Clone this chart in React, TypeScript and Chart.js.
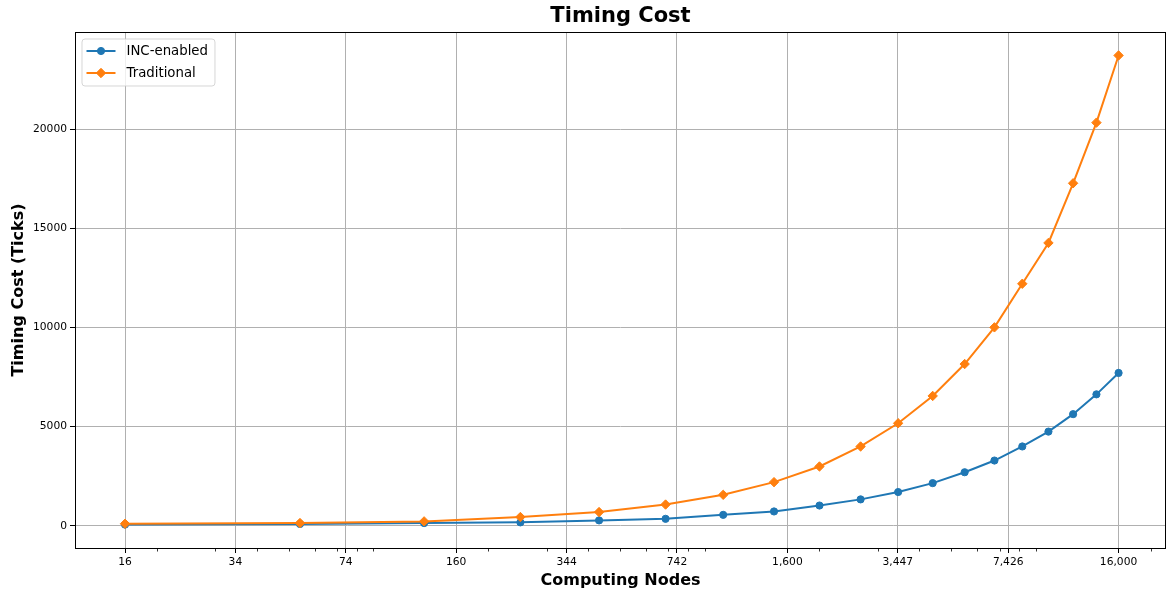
import React, { useEffect, useRef } from 'react';
import { Chart, registerables } from 'chart.js';

Chart.register(...registerables);

// ---- data ----
const nodes = [16, 54, 128, 250, 432, 686, 1024, 1458, 2000, 2662, 3456, 4394, 5488, 6750, 8192, 9826, 11664, 13718, 16000];
const incEnabled = [60, 90, 135, 170, 270, 350, 550, 720, 1020, 1330, 1700, 2150, 2700, 3290, 4000, 4750, 5630, 6630, 7710];
const traditional = [100, 135, 220, 440, 690, 1070, 1560, 2200, 2990, 4000, 5170, 6550, 8160, 10010, 12210, 14270, 17280, 20340, 23730];

const xTickValues = [16, 34.47, 74.27, 160, 344.71, 742.65, 1600, 3447.09, 7426.54, 16000];
const xTickLabels = ['16', '34', '74', '160', '344', '742', '1,600', '3,447', '7,426', '16,000'];
const xMinorTicks = [20, 30, 40, 50, 60, 70, 80, 90, 200, 300, 400, 500, 600, 700, 800, 900, 2000, 3000, 4000, 5000, 6000, 7000, 8000, 9000, 20000];
const yTickValues = [0, 5000, 10000, 15000, 20000];
const yTickLabels = ['0', '5000', '10000', '15000', '20000'];

const X_MIN = 11.3;
const X_MAX = 22250;
const Y_MIN = -1123;
const Y_MAX = 24913;

const FONT = 'DejaVu Sans';

const framePlugin = {
  id: 'frame',
  afterDatasetsDraw(chart: any) {
    const { ctx, chartArea } = chart;
    const { left, top, right, bottom } = chartArea;
    ctx.save();
    ctx.strokeStyle = '#000';
    ctx.lineWidth = 1;
    ctx.strokeRect(Math.round(left) + 0.5, Math.round(top) + 0.5, Math.round(right - left) - 1, Math.round(bottom - top));
    ctx.restore();
  },
};

const minorTickPlugin = {
  id: 'minorTicks',
  afterDraw(chart: any) {
    const { ctx, chartArea } = chart;
    const xs = chart.scales.x;
    ctx.save();
    ctx.strokeStyle = '#000';
    ctx.lineWidth = 0.8;
    for (const v of xMinorTicks) {
      const px = Math.round(xs.getPixelForValue(v)) + 0.5;
      if (px < chartArea.left || px > chartArea.right) continue;
      ctx.beginPath();
      ctx.moveTo(px, chartArea.bottom + 1);
      ctx.lineTo(px, chartArea.bottom + 3.5);
      ctx.stroke();
    }
    ctx.restore();
  },
};

function drawMarker(ctx: CanvasRenderingContext2D, style: string, x: number, y: number, r: number, color: string) {
  ctx.fillStyle = color;
  ctx.strokeStyle = color;
  ctx.lineWidth = 1;
  ctx.beginPath();
  if (style === 'rectRot') {
    ctx.moveTo(x - r, y);
    ctx.lineTo(x, y - r);
    ctx.lineTo(x + r, y);
    ctx.lineTo(x, y + r);
    ctx.closePath();
  } else {
    ctx.arc(x, y, r, 0, Math.PI * 2);
  }
  ctx.fill();
  ctx.stroke();
}

const legendPlugin = {
  id: 'mplLegend',
  afterDraw(chart: any) {
    const { ctx, chartArea } = chart;
    const datasets = chart.data.datasets;
    ctx.save();
    ctx.font = `13.3px "${FONT}"`;
    let maxW = 0;
    for (const ds of datasets) maxW = Math.max(maxW, ctx.measureText(ds.label).width);
    const x0 = chartArea.left + 7;
    const y0 = chartArea.top + 7;
    const w = 44.5 + maxW + 7;
    const h = 47;
    const r = 3;
    ctx.beginPath();
    ctx.moveTo(x0 + r, y0);
    ctx.lineTo(x0 + w - r, y0);
    ctx.arcTo(x0 + w, y0, x0 + w, y0 + r, r);
    ctx.lineTo(x0 + w, y0 + h - r);
    ctx.arcTo(x0 + w, y0 + h, x0 + w - r, y0 + h, r);
    ctx.lineTo(x0 + r, y0 + h);
    ctx.arcTo(x0, y0 + h, x0, y0 + h - r, r);
    ctx.lineTo(x0, y0 + r);
    ctx.arcTo(x0, y0, x0 + r, y0, r);
    ctx.closePath();
    ctx.fillStyle = 'rgba(255,255,255,0.8)';
    ctx.fill();
    ctx.strokeStyle = 'rgba(204,204,204,0.8)';
    ctx.lineWidth = 1;
    ctx.stroke();
    datasets.forEach((ds: any, i: number) => {
      const cy = y0 + 12 + i * 22;
      ctx.strokeStyle = ds.borderColor;
      ctx.lineWidth = ds.borderWidth;
      ctx.beginPath();
      ctx.moveTo(x0 + 4.5, cy);
      ctx.lineTo(x0 + 33.5, cy);
      ctx.stroke();
      drawMarker(ctx, ds.pointStyle, x0 + 19, cy, ds.pointRadius, ds.borderColor);
      ctx.fillStyle = '#000';
      ctx.textBaseline = 'middle';
      ctx.textAlign = 'left';
      ctx.fillText(ds.label, x0 + 44.5, cy + 0.5);
    });
    ctx.restore();
  },
};

export default function App() {
  const canvasRef = useRef<HTMLCanvasElement | null>(null);

  useEffect(() => {
    document.body.style.margin = '0';
    const canvas = canvasRef.current;
    if (!canvas) return;
    const tickFont = { family: FONT, size: 10.7 };
    const chart = new Chart(canvas, {
      type: 'line',
      data: {
        datasets: [
          {
            label: 'INC-enabled',
            data: nodes.map((x, i) => ({ x, y: incEnabled[i] })),
            borderColor: '#1f77b4',
            backgroundColor: '#1f77b4',
            pointBackgroundColor: '#1f77b4',
            pointBorderColor: '#1f77b4',
            pointStyle: 'circle',
            pointRadius: 3.6,
            pointBorderWidth: 1,
            borderWidth: 2,
            tension: 0,
            order: 1,
          },
          {
            label: 'Traditional',
            data: nodes.map((x, i) => ({ x, y: traditional[i] })),
            borderColor: '#ff7f0e',
            backgroundColor: '#ff7f0e',
            pointBackgroundColor: '#ff7f0e',
            pointBorderColor: '#ff7f0e',
            pointStyle: 'rectRot',
            pointRadius: 4.7,
            pointBorderWidth: 1,
            borderWidth: 2,
            tension: 0,
            order: 0,
          },
        ],
      },
      options: {
        animation: false,
        responsive: false,
        maintainAspectRatio: false,
        layout: { autoPadding: false, padding: { left: 0, right: 1, top: 0, bottom: 0 } },
        plugins: {
          legend: { display: false },
          tooltip: { enabled: false },
          title: {
            display: true,
            text: 'Timing Cost',
            fullSize: false,
            color: '#000',
            font: { family: FONT, size: 21, weight: 'bold' },
            padding: { top: 4, bottom: 2.8 },
          },
        },
        scales: {
          x: {
            type: 'logarithmic',
            min: X_MIN,
            max: X_MAX,
            afterBuildTicks: (scale: any) => {
              scale.ticks = xTickValues.map((v) => ({ value: v }));
            },
            afterFit: (scale: any) => {
              scale.height = 42;
              scale.paddingLeft = 0;
              scale.paddingRight = 0;
            },
            ticks: {
              autoSkip: false,
              maxRotation: 0,
              minRotation: 0,
              padding: 3,
              color: '#000',
              font: tickFont,
              callback: (_v: any, i: number) => xTickLabels[i],
            },
            grid: { color: '#b0b0b0', lineWidth: 1, tickLength: 5, tickColor: '#000', tickWidth: 1 },
            border: { display: false },
            title: {
              display: true,
              text: 'Computing Nodes',
              color: '#000',
              font: { family: FONT, size: 16, weight: 'bold' },
              padding: { top: 0, bottom: 0 },
            },
          },
          y: {
            type: 'linear',
            min: Y_MIN,
            max: Y_MAX,
            afterBuildTicks: (scale: any) => {
              scale.ticks = yTickValues.map((v) => ({ value: v }));
            },
            afterFit: (scale: any) => {
              scale.width = 75;
              scale.paddingTop = 0;
              scale.paddingBottom = 0;
            },
            ticks: {
              autoSkip: false,
              padding: 3,
              color: '#000',
              font: tickFont,
              callback: (_v: any, i: number) => yTickLabels[i],
            },
            grid: { color: '#b0b0b0', lineWidth: 1, tickLength: 5, tickColor: '#000', tickWidth: 1 },
            border: { display: false },
            title: {
              display: true,
              text: 'Timing Cost (Ticks)',
              color: '#000',
              font: { family: FONT, size: 16, weight: 'bold' },
              padding: { top: 9, bottom: 0 },
            },
          },
        },
      },
      plugins: [framePlugin, minorTickPlugin, legendPlugin],
    } as any);
    return () => chart.destroy();
  }, []);

  return (
    <div style={{ width: 1167, height: 590 }}>
      <canvas ref={canvasRef} width={1167} height={590} style={{ display: 'block', width: 1167, height: 590 }} />
    </div>
  );
}
